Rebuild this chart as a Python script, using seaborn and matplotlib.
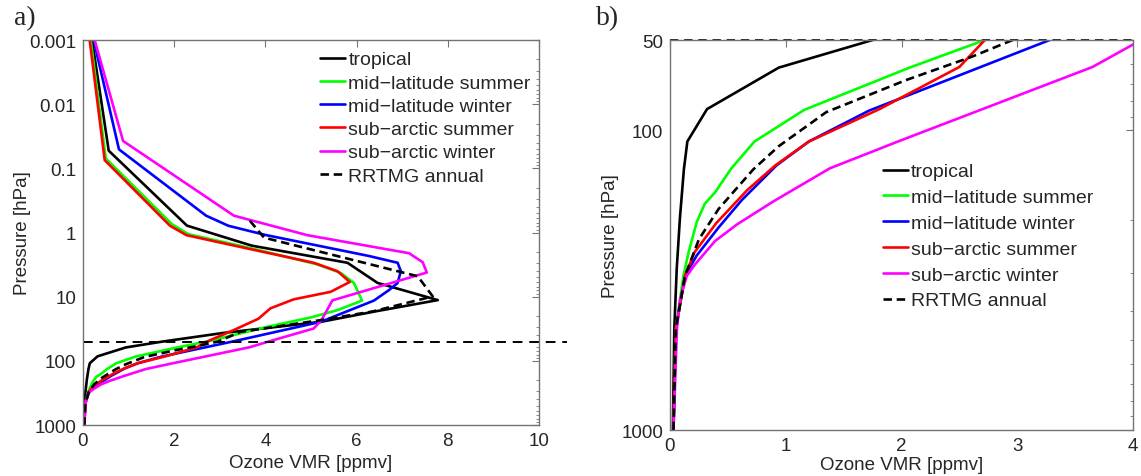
import matplotlib
matplotlib.use("Agg")
import matplotlib.pyplot as plt
import matplotlib.ticker as mticker
import numpy as np
import pandas as pd
import seaborn as sns

# Ozone profiles: pressure levels [hPa] and volume mixing ratio [ppmv]
tropical_p = [0.001, 0.053, 0.78, 1.6, 2.96, 6.1, 11.3, 17.0, 24.7, 36.7, 50, 61.8, 85, 109, 135, 198, 291, 461, 1000]
tropical_vmr = [0.20, 0.565, 2.28, 3.70, 5.80, 6.46, 7.78, 6.40, 5.21, 3.08, 1.75, 0.94, 0.32, 0.15, 0.12, 0.085, 0.058, 0.037, 0.025]

mls_p = [0.001, 0.070, 0.74, 1.06, 1.8, 3.14, 4.26, 6.1, 11.5, 16.2, 21.1, 29.5, 50, 61.8, 85.5, 109, 134, 161, 176, 203, 256, 306, 460, 1000]
mls_vmr = [0.17, 0.50, 1.95, 2.31, 3.75, 5.14, 5.65, 5.94, 6.12, 5.58, 4.99, 4.04, 2.72, 2.07, 1.16, 0.73, 0.53, 0.39, 0.30, 0.23, 0.16, 0.116, 0.05, 0.03]

mlw_p = [0.001, 0.0506, 0.546, 0.785, 1.09, 2.32, 2.96, 4.0, 6.1, 7.8, 11.5, 24.7, 50, 86, 109, 131, 171, 211, 262, 306, 460, 1000]
mlw_vmr = [0.235, 0.79, 2.70, 3.19, 4.00, 6.27, 6.90, 6.97, 6.90, 6.72, 6.38, 5.21, 3.28, 1.72, 1.20, 0.92, 0.62, 0.42, 0.23, 0.13, 0.05, 0.03]

sas_p = [0.001, 0.0745, 0.785, 1.1, 1.8, 2.96, 4.0, 5.9, 8.4, 11.0, 15.2, 22, 33.3, 50, 61.5, 85, 109, 131, 158, 204, 256, 306, 460, 1000]
sas_vmr = [0.147, 0.477, 1.91, 2.27, 3.65, 5.06, 5.58, 5.85, 5.43, 4.62, 4.11, 3.85, 3.30, 2.72, 2.50, 1.81, 1.20, 0.91, 0.67, 0.40, 0.21, 0.13, 0.05, 0.03]

saw_p = [0.001, 0.0374, 0.546, 1.1, 2.1, 2.9, 4.2, 6.0, 11.4, 23.2, 31.3, 50, 61.5, 85, 109, 134, 173, 206, 234, 280, 306, 366, 460, 1000]
saw_vmr = [0.257, 0.88, 3.31, 4.92, 7.15, 7.45, 7.54, 6.80, 5.47, 5.23, 5.06, 4.07, 3.65, 2.70, 1.97, 1.38, 0.89, 0.58, 0.39, 0.217, 0.145, 0.087, 0.06, 0.03]

rrtmg_p = [0.655, 1.2, 4.8, 9.9, 17, 23.2, 35.4, 50, 57, 68, 87, 113, 135, 154, 183, 231, 306, 460, 1000]
rrtmg_vmr = [3.66, 3.97, 7.34, 7.67, 6.35, 5.21, 3.45, 2.96, 2.60, 2.04, 1.35, 0.94, 0.72, 0.59, 0.42, 0.25, 0.13, 0.05, 0.03]

profile_names = ["tropical", "mid\u2212latitude summer", "mid\u2212latitude winter",
                 "sub\u2212arctic summer", "sub\u2212arctic winter", "RRTMG annual"]
profile_colors = ["#000000", "#00ff00", "#0000ff", "#ff0000", "#ff00ff", "#000000"]
cut_pressure = 50.0

series = [(tropical_p, tropical_vmr), (mls_p, mls_vmr), (mlw_p, mlw_vmr),
          (sas_p, sas_vmr), (saw_p, saw_vmr), (rrtmg_p, rrtmg_vmr)]
frames = []
for name, (p, v) in zip(profile_names, series):
    frames.append(pd.DataFrame({"profile": name, "pressure": p, "vmr": v}))
df = pd.concat(frames, ignore_index=True)

sns.set_style("white")
plt.rcParams["font.family"] = ["Liberation Sans", "DejaVu Sans"]
plt.rcParams["font.size"] = 13.5

palette = dict(zip(profile_names, profile_colors))
dashes = {n: "" for n in profile_names}
dashes["RRTMG annual"] = (3.2, 1.8)

fig = plt.figure(figsize=(11.41, 4.77), dpi=100)
ax_a = fig.add_axes([0.0727, 0.1069, 0.3997, 0.807])
ax_b = fig.add_axes([0.5872, 0.0964, 0.4058, 0.8176])

spine_col = "0.45"


def draw(ax):
    sns.lineplot(data=df, x="vmr", y="pressure", hue="profile", style="profile",
                 palette=palette, dashes=dashes, hue_order=profile_names,
                 style_order=profile_names, sort=False, estimator=None,
                 linewidth=1.9, legend=False, ax=ax)
    handles = list(ax.get_lines())[:len(profile_names)]
    ax.set_yscale("log")
    for s in ax.spines.values():
        s.set_color(spine_col)
        s.set_linewidth(1.0)
    ax.tick_params(which="both", direction="in", top=True, right=True,
                   color=spine_col, labelsize=13.5, pad=5)
    ax.tick_params(which="major", length=5)
    ax.tick_params(which="minor", length=2.5)
    ax.set_xlabel("Ozone VMR [ppmv]", fontsize=13.5)
    ax.set_ylabel("Pressure [hPa]", fontsize=13.5)
    return handles


legend_kw = dict(loc="upper left", frameon=False, fontsize=14, handlelength=1.3,
                 handletextpad=0.15, borderpad=0, borderaxespad=0)

# Panel a: full column
h_a = draw(ax_a)
ax_a.set_xlim(0, 10)
ax_a.set_ylim(1000, 0.001)
ax_a.xaxis.set_major_locator(mticker.MultipleLocator(2))
ax_a.yaxis.set_major_locator(mticker.FixedLocator([0.001, 0.01, 0.1, 1, 10, 100, 1000]))
ax_a.yaxis.set_major_formatter(mticker.FixedFormatter(["0.001", "0.01", "0.1", "1", "10", "100", "1000"]))
ax_a.yaxis.set_minor_locator(mticker.LogLocator(base=10, subs=np.arange(2, 10)))
ax_a.yaxis.set_minor_formatter(mticker.NullFormatter())
ax_a.axhline(cut_pressure, xmin=0, xmax=1.062, color="black", lw=1.4,
             ls=(0, (5, 3.5)), clip_on=False)
ax_a.legend(h_a, profile_names, bbox_to_anchor=(0.52, 0.972),
            labelspacing=0.29, **legend_kw)
ax_a.yaxis.set_label_coords(-0.115, 0.5)
ax_a.xaxis.set_label_coords(0.5, -0.075)

# Panel b: lower atmosphere below the cut level
h_b = draw(ax_b)
ax_b.set_xlim(0, 4)
ax_b.set_ylim(1000, cut_pressure)
ax_b.xaxis.set_major_locator(mticker.MultipleLocator(1))
ax_b.yaxis.set_major_locator(mticker.FixedLocator([50, 100, 1000]))
ax_b.yaxis.set_major_formatter(mticker.FixedFormatter(["50", "100", "1000"]))
ax_b.yaxis.set_minor_locator(mticker.LogLocator(base=10, subs=np.arange(2, 10)))
ax_b.yaxis.set_minor_formatter(mticker.NullFormatter())
ax_b.axhline(cut_pressure, color="black", lw=1.2, ls=(0, (5, 3.5)), clip_on=False)
ax_b.legend(h_b, profile_names, bbox_to_anchor=(0.46, 0.685),
            labelspacing=0.42, **legend_kw)
ax_b.yaxis.set_label_coords(-0.11, 0.5)
ax_b.xaxis.set_label_coords(0.5, -0.066)

fig.text(0.012, 0.962, "a)", family=["Liberation Serif", "DejaVu Serif"], fontsize=20, va="center")
fig.text(0.522, 0.962, "b)", family=["Liberation Serif", "DejaVu Serif"], fontsize=20, va="center")

fig.savefig("out.png", dpi=100)
